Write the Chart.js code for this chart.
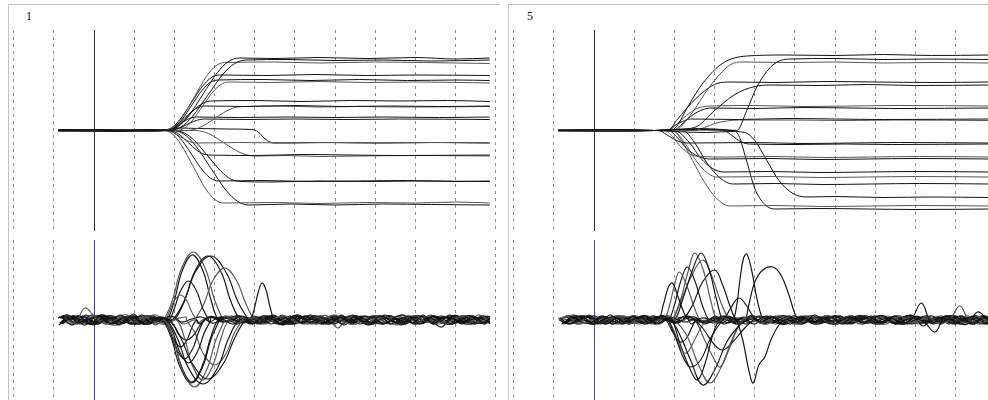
<!DOCTYPE html>
<html>
<head>
<meta charset="utf-8">
<script src="https://cdn.jsdelivr.net/npm/chart.js@4/dist/chart.umd.min.js"></script>
<style>
html, body { margin: 0; padding: 0; width: 988px; height: 400px; overflow: hidden; background: #fff; }
.panel { position: absolute; top: 4px; height: 420px; border-top: 1px solid #c4c4c4; border-left: 1px solid #c4c4c4; }
.label { position: absolute; font: 12px "Liberation Serif", "DejaVu Serif", serif; color: #111; }
canvas { position: absolute; }
</style>
</head>
<body>
<div class="panel" style="left:8px;width:491px"></div>
<div class="panel" style="left:508px;width:500px"></div>
<div class="label" style="left:26px;top:9px">1</div>
<div class="label" style="left:527px;top:9px">5</div>
<canvas id="pos1" width="490" height="201" style="left:9px;top:30px"></canvas>
<canvas id="vel1" width="490" height="160" style="left:9px;top:240px"></canvas>
<canvas id="pos2" width="490" height="201" style="left:509px;top:30px"></canvas>
<canvas id="vel2" width="490" height="160" style="left:509px;top:240px"></canvas>
<script>
// Time axis (ms, 0 = stimulus onset) and dashed reference lines every 100 ms
const gridTimes = [-200, -100, 0, 100, 200, 300, 400, 500, 600, 700, 800, 900, 1000];
const recordEnd = 985;
// Sample times of the velocity recordings outside the movement
const velTimes = [-90,-65,-40,-15,10,35,60,85,110,135,160,185,210,235,260,285,310,335,360,385,410,435,
  460,485,510,535,560,585,610,635,660,685,710,735,760,785,810,835,860,885,910,935,960,985];
// Sampling phase of each trial (ms), added to velTimes
const block1Phase = [0, 9, 17, 4, 13, 21, 6, 11, 19, 2, 15, 23, 8, 3, 12, 20, 5, 16, 10];
const block5Phase = [5, 14, 1, 20, 9, 17, 3, 12, 22, 7, 16, 0, 11, 19, 6, 13, 24, 2, 18];

// ---- Block 1: position traces, [time ms, position] ----
const block1Position = [
  [[-90,0],[20,1],[120,-0.5],[181,0],[208,3.6],[235,14.5],[271,36.3],[307,58],[334,68.9],[361,72.5],[450,72],[560,73],[680,72],[800,73],[900,71.5],[985,72.5]],
  [[-90,1],[40,0],[140,1],[188,0],[216,3.5],[245,14.1],[283,35.3],[321,56.4],[350,67],[378,70.5],[480,71],[600,70],[720,70.5],[840,69.5],[985,70.5]],
  [[-90,-1],[60,0],[150,-1],[175,0],[198,3.4],[220,13.6],[250,34],[280,54.4],[303,64.6],[325,68],[450,68.5],[560,67.5],[700,68.5],[820,68],[985,67]],
  [[-90,0],[30,-1],[130,0],[172,0],[193,2.8],[214,11.1],[242,27.8],[270,44.4],[291,52.7],[312,55.5],[430,55],[550,56],[680,55],[800,55.5],[985,55]],
  [[-90,1],[50,0],[150,0.5],[178,0],[198,2.5],[217,10.1],[243,25.3],[269,40.4],[289,48],[308,50.5],[420,51],[540,50],[660,51],[780,50],[900,50.5],[985,50]],
  [[-90,0],[40,1],[140,0],[205,0],[225,2.4],[244,9.7],[270,24.3],[296,38.8],[316,46.1],[335,48.5],[440,48],[560,49],[680,48],[800,48.5],[985,47.5]],
  [[-90,0],[70,-1],[150,0],[180,0],[197,1.5],[213,5.9],[235,14.8],[257,23.6],[274,28],[290,29.5],[400,30],[520,29],[640,30],[760,29.5],[880,30],[985,29]],
  [[-90,-1],[30,0],[150,0],[175,0],[190,1.2],[205,4.9],[225,12.3],[245,19.6],[260,23.3],[275,24.5],[380,24],[500,25],[620,24],[740,24.5],[860,24],[985,24.5]],
  [[-90,0],[60,1],[150,0],[230,0],[251,1.2],[272,4.8],[300,12],[328,19.2],[349,22.8],[370,24],[460,24.5],[560,23.5],[660,24],[760,23.5],[985,24]],
  [[-90,0],[50,-0.5],[150,0],[175,0],[187,0.7],[199,2.7],[215,6.8],[231,10.8],[243,12.8],[255,13.5],[360,13],[480,13.5],[600,13],[720,13.5],[860,13],[985,13.5]],
  [[-90,0.5],[40,0],[150,0.5],[185,0],[199,0.6],[212,2.3],[230,5.8],[248,9.2],[262,10.9],[275,11.5],[380,11],[500,11.5],[620,11],[760,11.5],[985,11]],
  [[-90,0],[60,0.5],[150,0],[175,0],[187,-0.6],[199,-2.5],[215,-6.3],[231,-10],[243,-11.9],[255,-12.5],[360,-12],[480,-12.5],[600,-12],[720,-12.5],[860,-12],[985,-12.5]],
  [[-90,0],[40,0.5],[150,0],[180,1],[210,2.5],[260,2],[330,1.5],[392,1],[400,0.4],[409,-1.5],[420,-6.3],[431,-10],[440,-11.9],[448,-12.5],[560,-12],[700,-12.5],[840,-12],[985,-12.5]],
  [[-90,0.5],[50,0],[150,-0.5],[185,0],[200,-1.2],[215,-4.9],[235,-12.3],[255,-19.6],[270,-23.3],[285,-24.5],[400,-25],[520,-24],[640,-24.5],[760,-25],[985,-24.5]],
  [[-90,0],[70,0.5],[150,0],[250,0],[273,-1.3],[295,-5.1],[325,-12.8],[355,-20.4],[378,-24.2],[400,-25.5],[480,-25],[560,-26],[660,-25.5],[800,-25],[985,-25.5]],
  [[-90,0],[30,0.5],[150,0],[180,0],[200,-2.5],[219,-10.1],[245,-25.3],[271,-40.4],[291,-48],[310,-50.5],[420,-50],[540,-51],[660,-50.5],[780,-50],[900,-51],[985,-50.5]],
  [[-90,-0.5],[60,0],[150,0.5],[200,0],[225,-2.6],[250,-10.2],[283,-25.5],[316,-40.8],[340,-48.5],[365,-51],[440,-51.5],[560,-50.5],[680,-51],[800,-50.5],[985,-51]],
  [[-90,0],[40,0.5],[150,0],[172,0],[195,-3.6],[217,-14.5],[247,-36.3],[277,-58],[300,-68.9],[322,-72.5],[450,-72],[560,-73],[680,-72],[800,-72.5],[900,-71.5],[985,-72.5]],
  [[-90,0.5],[50,0],[150,0],[195,0],[224,-3.7],[252,-14.9],[290,-37.3],[328,-59.6],[357,-70.8],[385,-74.5],[490,-73.5],[600,-74.5],[720,-73.5],[840,-74],[985,-74.5]]
];

// ---- Block 1: velocity during the movement, [time ms, velocity] ----
const block1Movement = [
  [[181,0],[208,-19],[235,-48],[271,-64],[307,-48],[334,-19],[361,0]],
  [[188,0],[216,-18],[245,-44],[283,-59],[321,-44],[350,-18],[378,0]],
  [[175,0],[198,-20],[220,-50],[250,-67],[280,-50],[303,-20],[325,0]],
  [[172,0],[193,-19],[214,-47],[242,-63],[270,-47],[291,-19],[312,0]],
  [[178,0],[198,-19],[217,-46],[243,-62],[269,-46],[289,-19],[308,0]],
  [[205,0],[225,-18],[244,-45],[270,-60],[296,-45],[316,-18],[335,0]],
  [[180,0],[197,-13],[213,-32],[235,-43],[257,-32],[274,-13],[290,0]],
  [[175,0],[190,-12],[205,-29],[225,-39],[245,-29],[260,-12],[275,0]],
  [[230,0],[251,-13],[272,-34],[300,-45],[328,-34],[349,-13],[370,0]],
  [[175,0],[187,-8],[199,-20],[215,-27],[231,-20],[243,-8],[255,0]],
  [[185,0],[199,-6],[212,-15],[230,-20],[248,-15],[262,-6],[275,0]],
  [[175,0],[187,8],[199,19],[215,25],[231,19],[243,8],[255,0]],
  [[388,0],[398,10],[408,27],[418,37],[428,30],[438,13],[450,0]],
  [[185,0],[200,12],[215,29],[235,39],[255,29],[270,12],[285,0]],
  [[250,0],[273,16],[295,39],[325,52],[355,39],[378,16],[400,0]],
  [[180,0],[200,20],[219,49],[245,65],[271,49],[291,20],[310,0]],
  [[200,0],[225,19],[250,48],[283,64],[316,48],[340,19],[365,0]],
  [[172,0],[195,20],[217,51],[247,68],[277,51],[300,20],[322,0]],
  [[195,0],[224,19],[252,48],[290,64],[328,48],[357,19],[385,0]]
];

// ---- Block 1: velocity at rest, one value per entry of velTimes ----
const block1Rest = [
  [2,5,-3,1,-4,3,-5,2,0,-4, 3,1,-2,4,0,-3,2,-4,1,0, -3,4,-4,2,5,-2,0,-4,3,-2, 1,-5,4,0,-3,4,-4,2,-2,5, -3,0,2,-2],
  [-4,2,0,-3,5,-4,2,3,-2,1, 2,-4,0,3,-2,4,0,-3,2,-4, 4,1,-5,2,-3,4,2,-4,0,5, -2,3,-4,0,2,-3,5,-4,2,1, -2,4,-3,2],
  [2,-3,12,3,-4,0,3,-2,4,-5, 1,2,-4,2,0,-2,4,-3,0,2, -4,2,4,-2,0,-4,2,5,-3,-4, 2,0,4,-5,2,4,-2,0,-4,2, 4,-2,0,3],
  [-3,4,-2,1,4,-4,5,-2,-4,2, 0,-2,3,4,-3,0,2,-2,4,1, 2,-4,0,4,-3,5,-4,0,2,-2, 4,-4,2,1,-5,3,4,-2,2,-4, 0,4,-3,1],
  [4,-2,1,-5,3,4,-3,6,-4,0, 2,4,-2,1,2,-4,3,0,-2,4, -2,1,3,-4,4,0,-3,2,-5,4, 1,-3,5,-2,-4,3,0,4,-4,5, -2,3,-4,4],
  [0,-4,4,2,-3,-5,4,1,2,-3, -4,1,2,-3,4,0,-2,3,1,-4, 4,-3,2,0,-4,3,4,-8,2,0, -3,4,1,-4,2,-3,4,0,-2,3, -4,5,0,-2],
  [-3,1,3,-4,5,2,-4,0,4,-2, 2,0,-3,2,1,4,-2,0,3,-3, 1,4,-4,3,-2,1,4,-3,5,-4, 2,-3,1,4,-4,3,0,-2,-7,4, 2,-4,3,0],
  [3,-5,4,-2,1,3,-3,4,-4,2, 0,-3,4,1,-2,3,0,-4,2,1, -3,5,-2,-4,3,0,-3,4,1,-3, 4,-2,-4,2,5,-4,1,3,-2,4, -3,0,4,-4],
  [5,0,-3,4,-4,1,3,-4,2,5, -2,1,3,-3,4,0,-2,1,3,-2, 4,-4,2,0,-3,4,-4,3,1,4, -5,2,-3,4,0,-4,3,-2,4,1, -3,2,-3,4],
  [-5,2,4,1,-3,2,-4,0,-2,4, 2,-3,1,2,-4,3,0,2,-3,1, -4,3,0,-2,4,-3,2,-4,4,0, 3,-2,4,-4,1,2,-3,5,-2,-4, 4,1,-3,2],
  [1,4,-5,2,3,-2,0,4,-4,1, -2,4,2,-3,0,3,-2,4,1,-3, 2,-3,-4,4,0,2,-4,1,3,-2, 4,0,-3,2,-4,4,-2,1,3,-3, 0,-4,4,-2],
  [4,-4,2,0,-4,3,5,-2,1,2, -4,2,0,-3,3,1,4,-2,0,-3, -2,3,1,4,-4,2,-3,0,4,-2, 1,3,-4,0,4,-2,2,-4,1,4, -2,3,0,-4],
  [-2,3,-2,5,1,-4,2,-4,5,-3, 0,4,-2,1,3,-3,0,4,-2,2, 1,-4,5,-2,3,-3,0,2,-4,3, -2,4,2,-4,0,3,-3,4,-2,-4, 3,4,-2,1],
  [3,0,4,-4,-2,1,4,2,-3,-4, 2,1,-3,2,0,-2,3,1,4,-4, 2,0,-3,-4,2,4,0,-2,3,1, -4,2,4,0,-3,2,-4,1,4,2, -3,-4,2,3],
  [-4,4,1,-3,2,-4,0,4,2,-2, 1,3,-4,0,4,-2,2,1,-3,4, -4,0,3,2,-3,1,-4,4,-2,3, 2,-4,1,3,4,-3,0,-4,2,-2, 4,1,-4,2],
  [1,-3,5,-4,0,2,-2,-4,4,1, 4,-2,0,3,-3,1,2,-4,0,3, 1,2,-3,4,0,-4,3,1,-2,4, -3,0,2,-3,4,-4,2,3,-4,0, 2,-3,4,1],
  [2,3,-4,1,4,-3,2,0,-4,3, -2,1,4,-3,0,2,-3,1,4,-2, -3,4,1,-2,3,-4,0,4,2,-3, 1,-4,3,4,-2,0,3,-3,1,4, -4,2,1,-3],
  [-2,-4,3,4,-2,1,-3,2,0,-4, 4,2,-3,1,3,-2,4,0,-3,1, 4,-2,3,-4,1,4,-3,2,0,-4, 2,4,-2,1,-4,3,0,4,-2,3, 1,-3,2,-4],
  [4,1,-2,-4,3,2,0,-4,4,2, -3,1,2,0,-3,4,-2,3,1,-4, 2,1,-3,4,-4,3,2,-2,0,4, -3,-4,4,2,1,-3,4,-4,3,0, 4,-2,-3,2]
];

// ---- Block 5: position traces ----
const block5Position = [
  [[-90,0],[40,1],[150,0],[190,0],[205,4],[235,25],[271,47.5],[321,67.5],[380,74.5],[480,75.5],[600,75],[720,76],[840,75],[985,75.5]],
  [[-90,0],[60,-0.5],[150,0],[200,1],[260,2],[320,1],[355,0],[380,20],[405,43.5],[445,65.5],[487,71.5],[600,72],[720,71],[840,71.5],[985,71]],
  [[-90,0.5],[40,0],[150,0],[200,0],[237,14],[288,44],[338,65.5],[370,68.5],[480,68],[600,68.5],[720,67.5],[840,68],[985,67.5]],
  [[-90,0],[50,0.5],[150,0],[185,0],[205,10],[256,33],[306,47],[340,48.5],[450,48],[580,49],[700,48.5],[840,48],[985,48.5]],
  [[-90,0],[30,-0.5],[150,0],[200,1],[250,3],[300,20],[350,36],[400,44],[440,45.5],[560,45],[680,46],[800,45],[985,45.5]],
  [[-90,-0.5],[40,0],[150,0],[185,0],[205,6],[230,15],[256,22],[290,24.5],[400,25],[520,24],[640,24.5],[760,25],[985,24.5]],
  [[-90,0],[60,0.5],[150,0],[195,0],[215,5],[240,14],[265,20],[290,22.5],[400,22],[520,23],[640,22.5],[760,22],[985,22.5]],
  [[-90,0.5],[40,0],[150,0],[180,0],[200,5],[220,9],[240,11.5],[360,11],[480,12],[600,11.5],[720,11],[985,11.5]],
  [[-90,0],[50,-0.5],[150,0],[250,0],[275,3],[300,7],[330,9.5],[360,10.5],[500,10.5],[620,10],[760,10.5],[985,10]],
  [[-90,0],[40,0.5],[150,0],[160,0],[180,-4],[200,-9],[220,-12],[240,-12.5],[400,-12],[520,-13],[640,-12.5],[760,-12],[985,-12.5]],
  [[-90,0.5],[60,0],[150,0],[200,0.5],[260,1],[320,0.5],[340,-4],[360,-10],[385,-13.5],[500,-14],[620,-13.5],[740,-14],[985,-13.5]],
  [[-90,0],[50,0.5],[150,0],[175,0],[195,-6],[215,-16],[240,-24],[265,-26],[330,-26.5],[450,-26],[570,-27],[690,-26.5],[810,-26],[985,-26.5]],
  [[-90,-0.5],[40,0],[150,0],[185,0],[205,-6],[230,-18],[260,-26],[290,-28.5],[440,-28],[560,-29],[680,-28.5],[800,-28],[985,-28.5]],
  [[-90,0],[60,0.5],[150,0],[200,0],[237,-12],[266,-28],[295,-38],[323,-41.5],[440,-41],[560,-42],[680,-41.5],[800,-41],[985,-41.5]],
  [[-90,0],[40,-0.5],[150,0],[195,0],[225,-12],[250,-28],[275,-40],[305,-46.5],[440,-46],[560,-47],[680,-46.5],[800,-46],[985,-46.5]],
  [[-90,0.5],[40,0],[150,0],[220,0],[250,-12],[280,-32],[315,-48],[345,-53.5],[450,-53],[570,-54],[690,-53.5],[810,-53],[985,-53.5]],
  [[-90,0],[50,0.5],[150,0],[200,-1],[280,-2],[340,-1],[375,-2],[400,-10],[430,-30],[460,-50],[495,-63],[530,-66.5],[600,-66],[720,-67],[840,-66.5],[985,-67]],
  [[-90,0],[40,0.5],[150,0],[195,0],[215,-8],[245,-30],[275,-52],[305,-68],[338,-75.5],[450,-75],[570,-76],[690,-75.5],[810,-75],[985,-75.5]],
  [[-90,0],[60,-0.5],[150,0],[200,1],[270,0.5],[345,0],[360,-5],[378,-28],[400,-58],[425,-74],[450,-78.5],[560,-78],[680,-78.5],[800,-79],[985,-78.5]]
];

// ---- Block 5: velocity during the movement ----
const block5Movement = [
  [[190,0],[210,-12],[240,-40],[270,-65],[300,-50],[330,-22],[360,-6],[380,0]],
  [[355,0],[370,-20],[385,-50],[396,-63],[410,-45],[425,-37],[440,-20],[460,-5],[475,0]],
  [[200,0],[230,-15],[260,-45],[288,-63],[315,-48],[345,-18],[370,0]],
  [[185,0],[205,-20],[225,-40],[240,-47],[265,-40],[290,-18],[320,0]],
  [[250,0],[270,-8],[300,-25],[320,-30],[345,-22],[375,-8],[400,0]],
  [[185,0],[200,-12],[215,-28],[230,-33],[250,-20],[270,-5],[285,0]],
  [[195,0],[215,-25],[240,-50],[257,-60],[275,-45],[295,-15],[310,0]],
  [[180,0],[200,-15],[215,-22],[230,-18],[245,-6],[255,0]],
  [[250,0],[275,-20],[300,-40],[314,-47],[335,-30],[355,-10],[370,0]],
  [[160,0],[172,15],[185,33],[195,37],[210,22],[225,6],[235,0]],
  [[320,0],[340,12],[360,22],[380,14],[395,4],[405,0]],
  [[175,0],[188,15],[200,35],[212,48],[230,35],[250,12],[265,0]],
  [[185,0],[200,15],[215,38],[232,53],[250,40],[270,14],[285,0]],
  [[200,0],[220,20],[245,50],[266,67],[285,52],[305,20],[320,0]],
  [[195,0],[215,20],[235,50],[250,67],[270,52],[290,20],[305,0]],
  [[220,0],[245,15],[270,38],[300,50],[320,35],[340,12],[355,0]],
  [[375,0],[385,15],[400,38],[420,50],[445,53],[465,45],[485,25],[500,6],[510,0]],
  [[195,0],[215,18],[240,42],[270,60],[292,45],[315,18],[335,0]],
  [[345,0],[355,15],[363,40],[372,62],[380,66],[392,50],[405,22],[420,0]]
];

// ---- Block 5: velocity at rest ----
const block5Rest = [
  [2,-4,1,4,-2,5,-3,0,2,-3, 4,1,-2,3,-4,0,2,1,-3,4, -2,3,0,-4,4,-2,1,3,-4,2, 0,4,-3,2,-4,1,17,-3,2,0, 4,-3,2,1],
  [-3,4,2,-4,1,3,-2,4,-4,0, 2,-3,4,1,-2,3,-4,2,0,-3, 4,-4,1,2,-3,5,-2,-4,3,0, -2,3,4,-4,0,2,-3,-12,4,-2, 1,3,-4,2],
  [0,3,-4,5,-2,1,4,-4,2,-3, 1,4,-2,3,0,-3,4,-4,1,2, -3,0,4,-2,-4,3,1,4,-3,2, -4,1,3,-2,4,-3,0,2,-4,1, 14,-2,3,-4],
  [4,-2,3,0,-4,2,-3,1,4,-4, 2,0,-3,4,-2,1,3,-4,2,0, 4,-3,-4,2,1,-2,4,0,-4,3, 2,-3,1,4,-4,2,-2,1,4,-3, -4,8,1,2],
  [-4,1,4,-2,3,-4,0,2,-3,4, 1,-2,3,0,-4,2,1,-3,4,0, -2,3,-4,4,1,-3,2,-2,0,4, -4,2,1,-3,3,4,-6,2,0,-3, 2,-4,4,1],
  [2,5,-3,1,-4,2,4,-2,0,-4, 3,1,-2,4,0,-3,2,-4,1,3, 0,-4,2,1,4,-4,3,0,-2,2, 4,-3,-4,2,1,-2,4,-3,2,0, -3,4,-2,-4],
  [0,-4,2,3,-3,1,4,-4,2,0, -3,2,1,-3,4,-2,0,3,-2,4, 2,-3,0,4,-4,1,3,-2,4,-3, 1,3,-4,2,-2,5,-3,0,-4,3, 1,-2,4,2],
  [-3,2,1,-4,4,-2,3,0,-3,2, 4,-2,1,3,-2,0,4,-3,2,-4, 1,3,-2,0,2,-4,4,1,-3,0, 3,-4,2,1,-3,2,0,-4,3,4, -2,1,3,-3],
  [4,-3,-2,3,0,-4,2,4,-4,1, 0,3,-2,4,1,-4,2,0,3,-2, -4,4,2,-3,0,3,-2,-4,4,1, -3,0,4,-2,3,-4,1,2,-3,0, 4,-4,1,3],
  [1,4,-2,-3,4,0,-4,3,1,2, -2,1,4,-4,2,0,-3,2,-2,1, 3,-2,4,0,-4,2,-3,3,1,-4, 4,2,-3,0,2,-4,1,4,-2,3, -3,1,-4,4],
  [-4,2,3,0,-3,4,-2,1,4,-3, 2,-2,1,3,-4,4,0,-3,1,2, -3,4,0,-2,3,-4,1,4,-3,2, 0,-3,2,-4,4,1,-2,3,0,-4, 2,4,-2,0],
  [2,0,-4,4,1,-3,2,-4,0,4, -4,3,1,-2,2,0,-3,4,-2,1, 4,0,-2,3,-4,2,1,-3,4,-4, 2,0,-4,3,1,4,-2,-3,2,0, -4,2,3,-2],
  [-2,-3,4,1,2,-4,0,4,-2,3, 1,-4,2,0,4,-3,1,-2,3,0, -3,2,-4,1,3,4,-2,0,-4,2, -3,4,1,-2,-4,3,2,0,-2,4, 1,-3,2,0],
  [4,2,-3,-4,1,3,-2,2,4,-3, 0,2,-4,3,1,-2,4,0,-4,2, 3,-2,0,-3,4,-2,2,-4,1,3, 4,-4,0,2,-3,1,4,-2,0,-3, 2,1,-4,3],
  [0,-3,4,2,-4,1,3,-2,4,-4, 2,0,-2,1,3,-4,2,3,0,-2, 1,4,-3,2,-4,0,3,-2,2,1, -4,2,4,-3,0,-2,3,1,4,-4, 0,2,-3,4],
  [-4,4,0,-2,3,1,-4,4,-2,0, 4,-3,2,1,-2,3,0,-4,2,1, -4,2,3,-4,0,2,-2,4,1,-3, 2,0,-2,4,-4,3,1,-3,2,3, -2,-4,4,0],
  [2,-2,4,-4,1,3,-3,0,-2,3, 1,-3,4,-2,0,2,-3,1,4,-4, 2,0,-3,3,1,-4,4,-2,2,0, -3,4,1,-4,2,0,-2,3,-4,4, 1,2,-3,-2],
  [1,4,-4,0,2,-3,4,1,-4,2, -3,3,0,-4,2,3,-2,0,2,-3, 4,-2,1,3,-3,0,-4,2,4,-2, 0,-3,2,1,4,-4,2,0,-3,3, -4,2,1,4],
  [-3,1,2,4,-4,2,0,-3,3,-4, 4,1,-2,2,-3,0,4,-4,2,1, -2,3,4,-3,0,-4,2,1,-2,4, 3,-4,0,2,-3,4,-2,1,3,-3, 0,4,-4,2]
];

// ---- drawing ----
const X_MIN = -212, X_MAX = 1008;
const GRID_COLOR = '#8a8ab8';
const traceColor = i => (i % 3 === 2 ? '#555555' : '#101410');

function toXY(pts) { return pts.map(p => ({ x: p[0], y: p[1] })); }

// Rest samples outside the movement window, joined with the movement samples
function velocitySeries(rest, move, phase) {
  const t0 = move[0][0], t1 = move[move.length - 1][0];
  const pts = [];
  velTimes.forEach((base, i) => {
    const t = Math.min(base + phase, recordEnd);
    if ((t < t0 || t > t1) && rest[i] !== undefined) pts.push([t, rest[i]]);
  });
  move.forEach(p => pts.push(p));
  pts.sort((a, b) => a[0] - b[0]);
  return toXY(pts);
}

function drawPanel(id, series, yRange, zeroColor, curve) {
  new Chart(document.getElementById(id), {
    type: 'line',
    data: {
      datasets: series.map((s, i) => Object.assign({
        data: s,
        borderColor: traceColor(i),
        borderWidth: 1,
        pointRadius: 0,
        fill: false
      }, curve))
    },
    options: {
      responsive: false,
      animation: false,
      events: [],
      parsing: false,
      layout: { padding: 0, autoPadding: false },
      plugins: { legend: { display: false }, tooltip: { enabled: false } },
      scales: {
        x: {
          type: 'linear', min: X_MIN, max: X_MAX,
          afterBuildTicks: s => { s.ticks = gridTimes.map(v => ({ value: v })); },
          ticks: { display: false },
          grid: {
            drawTicks: false, lineWidth: 1,
            color: c => (c.tick && c.tick.value === 0 ? zeroColor : GRID_COLOR)
          },
          border: { display: false, dash: c => (c.tick && c.tick.value === 0 ? [] : [3, 4]) }
        },
        y: { display: false, min: -yRange, max: yRange }
      }
    }
  });
}

const posCurve = { cubicInterpolationMode: 'monotone' };
const velCurve = { tension: 0.4, borderWidth: 1.15 };

drawPanel('pos1', block1Position.map(toXY), 100.5, '#2b2b2b', posCurve);
drawPanel('vel1', block1Rest.map((r, i) => velocitySeries(r, block1Movement[i], block1Phase[i])), 80, '#4a3aa4', velCurve);
drawPanel('pos2', block5Position.map(toXY), 100.5, '#2b2b2b', posCurve);
drawPanel('vel2', block5Rest.map((r, i) => velocitySeries(r, block5Movement[i], block5Phase[i])), 80, '#4a3aa4', velCurve);
</script>
</body>
</html>
